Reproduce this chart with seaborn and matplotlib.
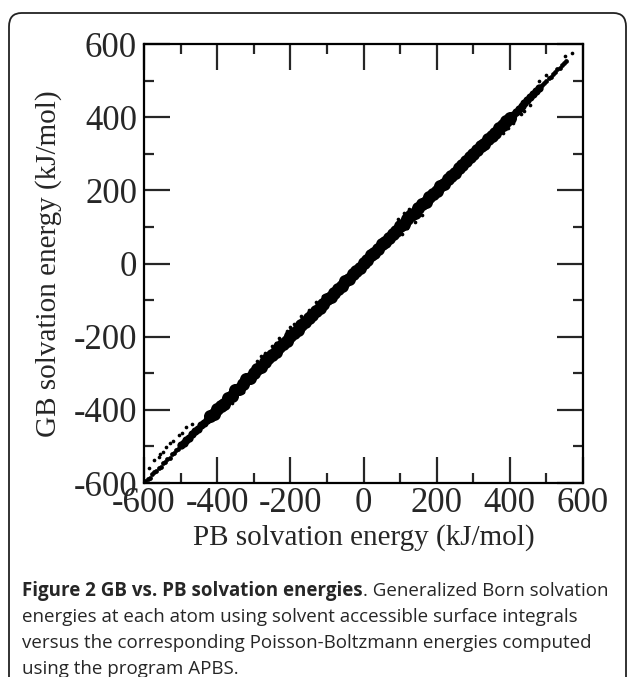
import matplotlib
matplotlib.use("Agg")
import matplotlib.pyplot as plt
from matplotlib.patches import FancyBboxPatch
from matplotlib.ticker import MultipleLocator
import seaborn as sns
import pandas as pd

# dense middle of the band (PB, GB in kJ/mol)
core_pb = [-420, -410, -400, -390, -380, -370, -360, -350, -340, -330,
           -320, -310, -300, -290, -280, -270, -260, -250, -240, -230,
           -220, -210, -200, -190, -180, -170, -160, -150, -140, -130,
           -120, -110, -100, -90, -80, -70, -60, -50, -40, -30,
           -20, -10, 0, 10, 20, 30, 40, 50, 60, 70,
           80, 90, 100, 110, 120, 130, 140, 150, 160, 170,
           180, 190, 200, 210, 220, 230, 240, 250, 260, 270,
           280, 290, 300, 310, 320, 330, 340, 350, 360, 370,
           380, 390, 400]
core_gb = [-418, -412, -397, -390, -383, -368, -361, -346, -342, -330,
           -317, -314, -299, -288, -283, -270, -257, -251, -243, -227,
           -220, -212, -197, -191, -183, -168, -161, -148, -142, -129,
           -121, -112, -98, -91, -82, -69, -61, -48, -42, -29,
           -21, -12, 2, 9, 22, 29, 41, 52, 58, 71,
           81, 88, 102, 109, 121, 132, 138, 151, 162, 168,
           181, 189, 199, 211, 218, 231, 239, 248, 261, 268,
           279, 291, 298, 309, 321, 328, 339, 349, 358, 371,
           378, 389, 398]

# band getting thinner towards both ends
mid_pb = [-500, -492, -484, -476, -468, -460, -452, -444, -436, -428,
          408, 416, 424, 432, 440, 448, 456, 464, 472, 480]
mid_gb = [-497, -491, -482, -477, -466, -459, -453, -442, -435, -429,
          406, 415, 423, 430, 439, 447, 455, 462, 471, 479]

tail_pb = [-596, -590, -584, -578, -572, -566, -560, -554, -548, -542,
           -536, -530, -524, -518, -512, -506,
           488, 494, 500, 506, 512, 518, 524, 530, 536, 542, 548, 554]
tail_gb = [-594, -589, -585, -576, -571, -567, -558, -555, -546, -543,
           -534, -531, -522, -519, -510, -507,
           487, 494, 499, 507, 511, 519, 523, 531, 535, 543, 549, 553]

# single atoms off the band
out_pb = [-585, -572, -560, -555, -548, -540, -530, -520, -505, -495, -485, -470,
          -290, -280, -270, -250, -240, -230, -210, -200, -190, -170, -150, -130, -110,
          -360, -330, 95, 110, 125, 140, 120, 140, 160, 105,
          380, 395, 410, 430, 440, 455, 480, 500, 551, 570]
out_gb = [-560, -538, -530, -522, -515, -502, -492, -485, -470, -462, -448, -440,
          -266, -254, -244, -226, -217, -204, -184, -174, -166, -144, -126, -104, -88,
          -382, -350, 122, 137, 150, 160, 96, 114, 132, 80,
          358, 370, 385, 410, 418, 432, 500, 516, 567, 575]

ticks = [-600, -400, -200, 0, 200, 400, 600]

core = pd.DataFrame({"PB": core_pb, "GB": core_gb})
mid = pd.DataFrame({"PB": mid_pb, "GB": mid_gb})
tail = pd.DataFrame({"PB": tail_pb, "GB": tail_gb})
outl = pd.DataFrame({"PB": out_pb, "GB": out_gb})

sns.set_theme(style="ticks")
plt.rcParams["font.family"] = ["Liberation Serif", "DejaVu Serif"]
plt.rcParams["axes.unicode_minus"] = False

fig = plt.figure(figsize=(6.29, 6.77), dpi=100)
ax = fig.add_axes([144 / 629, 1 - 483 / 677, 439 / 629, 439 / 677])

sns.scatterplot(data=core, x="PB", y="GB", ax=ax, color="black", s=88,
                linewidth=0, edgecolor=None)
sns.scatterplot(data=mid, x="PB", y="GB", ax=ax, color="black", s=36,
                linewidth=0, edgecolor=None)
sns.scatterplot(data=tail, x="PB", y="GB", ax=ax, color="black", s=12,
                linewidth=0, edgecolor=None)
sns.scatterplot(data=outl, x="PB", y="GB", ax=ax, color="black", s=7,
                linewidth=0, edgecolor=None)

ax.set_xlim(-600, 600)
ax.set_ylim(-600, 600)
ax.set_xticks(ticks)
ax.set_yticks(ticks)
ax.xaxis.set_minor_locator(MultipleLocator(100))
ax.yaxis.set_minor_locator(MultipleLocator(100))
ax.tick_params(which="major", direction="in", length=19, width=1.6,
               top=True, right=True, labelsize=25)
ax.tick_params(axis="x", which="major", pad=3)
ax.tick_params(axis="y", which="major", pad=5)
ax.tick_params(which="minor", direction="in", length=7, width=1.6,
               top=True, right=True)
for sp in ax.spines.values():
    sp.set_linewidth(1.6)
    sp.set_color("black")
ax.set_xlabel("PB solvation energy (kJ/mol)", fontsize=21, labelpad=3)
ax.set_ylabel("GB solvation energy (kJ/mol)", fontsize=21, labelpad=8)

# rounded figure frame
frame = FancyBboxPatch((9 / 629, -0.1), 617 / 629, 1.1 - 13 / 677,
                       boxstyle="round,pad=0,rounding_size=0.02",
                       transform=fig.transFigure, fill=False,
                       edgecolor="#222222", linewidth=1.3)
fig.patches.append(frame)

cfont = ["Open Sans", "DejaVu Sans"]
x0 = 22 / 629
t1 = fig.text(x0, 1 - 591 / 677, "Figure 2 GB vs. PB solvation energies",
              fontsize=13.5, fontweight="bold", family=cfont, va="center")
fig.canvas.draw()
bb = t1.get_window_extent()
fig.text(bb.x1 / fig.bbox.width, 1 - 591 / 677, ". Generalized Born solvation",
         fontsize=13.5, family=cfont, va="center")
lines = ["energies at each atom using solvent accessible surface integrals",
         "versus the corresponding Poisson-Boltzmann energies computed",
         "using the program APBS."]
for i, ln in enumerate(lines):
    fig.text(x0, 1 - (617 + 26 * i) / 677, ln, fontsize=13.5, family=cfont,
             va="center")

fig.savefig("out.png", dpi=100)
